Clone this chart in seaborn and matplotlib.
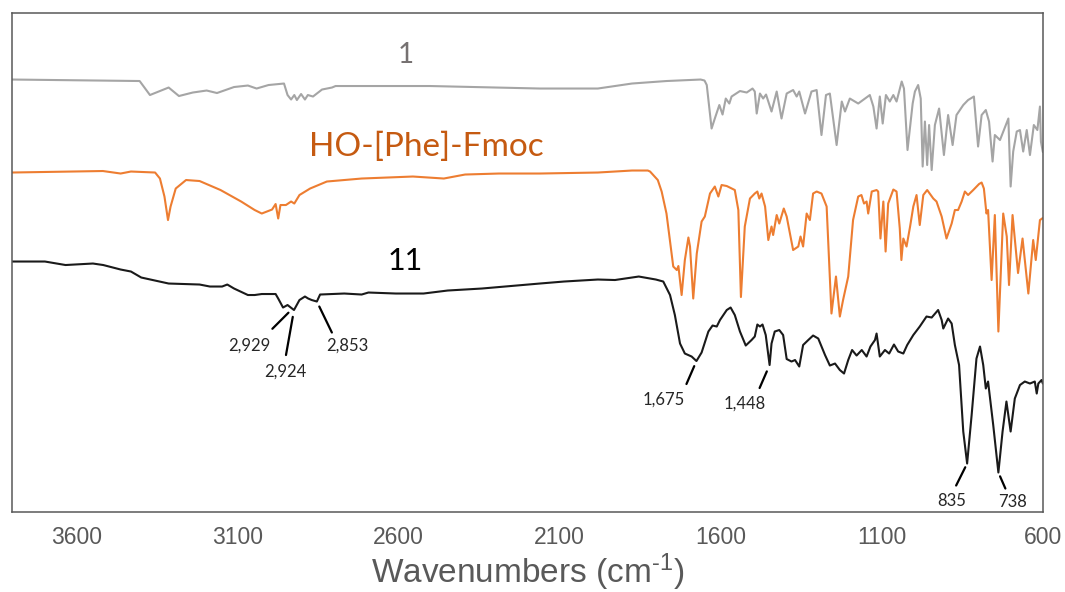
import numpy as np
import pandas as pd
import matplotlib
matplotlib.use("Agg")
import matplotlib.pyplot as plt
import seaborn as sns

# ---- FTIR spectra (wavenumber in cm-1, offset transmittance in a.u.) ----
wn_1 = [3800, 3403, 3371, 3313, 3281, 3238, 3195, 3163, 3110, 3067, 3040, 3003, 2955, 2944,
        2933, 2923, 2915, 2902, 2890, 2881, 2865, 2837, 2806, 2795, 2502, 2161, 1981, 1875,
        1768, 1662, 1650, 1643, 1628, 1618, 1604, 1594, 1584, 1573, 1566, 1540, 1519, 1501,
        1494, 1488, 1478, 1468, 1459, 1442, 1426, 1411, 1395, 1375, 1364, 1356, 1338, 1318,
        1302, 1287, 1273, 1261, 1240, 1224, 1214, 1199, 1173, 1137, 1126, 1116, 1106, 1097,
        1087, 1075, 1064, 1054, 1038, 1031, 1020, 1004, 997, 987, 979, 973, 966, 959, 953,
        945, 935, 922, 907, 894, 880, 868, 847, 832, 814, 801, 790, 777, 767, 756, 749, 733,
        707, 700, 692, 681, 671, 661, 650, 640, 628, 617, 609, 606, 600]
t_1 = [86.5, 86.2, 83.4, 84.9, 83.2, 83.9, 84.3, 83.8, 85.0, 85.3, 84.7, 85.4, 85.7, 83.4,
       82.5, 83.4, 82.4, 83.6, 82.5, 83.4, 83.1, 84.5, 84.9, 85.2, 85.2, 84.7, 84.7, 85.7,
       86.2, 86.5, 86.3, 85.4, 76.7, 78.7, 81.4, 79.5, 82.7, 81.7, 83.1, 84.2, 83.9, 84.7,
       84.1, 79.7, 83.7, 82.7, 83.5, 80.1, 84.1, 78.7, 83.7, 84.4, 83.1, 84.1, 79.7, 84.1,
       84.4, 75.4, 83.4, 83.7, 73.4, 82.1, 80.1, 82.7, 81.7, 83.4, 81.1, 76.7, 83.1, 77.7,
       83.4, 82.1, 83.4, 82.1, 86.1, 84.7, 72.4, 81.7, 84.1, 85.4, 82.7, 69.1, 78.1, 69.4,
       77.4, 68.4, 77.4, 80.7, 71.4, 79.4, 73.4, 79.4, 81.4, 82.4, 83.1, 73.1, 79.4, 80.4,
       78.1, 70.1, 75.4, 74.4, 78.7, 65.1, 72.1, 76.1, 76.4, 72.1, 76.4, 71.4, 77.4, 76.4,
       81.1, 74.1, 72.0]

wn_fmoc = [3800, 3517, 3462, 3430, 3355, 3340, 3326, 3315, 3307, 3291,
           3259, 3217, 3152, 3088, 3046, 3024, 2992, 2981, 2973, 2966,
           2949, 2933, 2923, 2907, 2874, 2822, 2714, 2555, 2459, 2393,
           2288, 2161, 1981, 1875, 1826, 1819, 1795, 1783, 1768, 1747,
           1736, 1731, 1721, 1711, 1700, 1695, 1685, 1674, 1659, 1649,
           1633, 1618, 1607, 1597, 1581, 1556, 1545, 1537, 1525, 1509,
           1494, 1486, 1480, 1473, 1462, 1452, 1442, 1437, 1426, 1418,
           1404, 1395, 1375, 1359, 1352, 1344, 1333, 1323, 1313, 1302,
           1287, 1271, 1256, 1242, 1230, 1220, 1204, 1189, 1173, 1163,
           1155, 1147, 1142, 1131, 1116, 1111, 1104, 1095, 1088, 1080,
           1064, 1054, 1044, 1039, 1033, 1023, 1012, 1002, 992, 982,
           971, 959, 940, 930, 914, 899, 883, 873, 863, 852,
           842, 832, 816, 798, 790, 783, 775, 770, 759, 749,
           738, 723, 712, 705, 694, 677, 663, 645, 630, 622,
           609, 600]
t_fmoc = [67.9, 68.2, 67.7, 68.1, 67.9, 66.7, 63.1, 58.4, 61.1, 64.7,
          66.4, 66.2, 64.4, 62.1, 60.4, 59.7, 60.5, 61.6, 58.7, 61.4,
          61.4, 62.1, 61.7, 63.4, 64.7, 66.1, 66.7, 67.1, 66.7, 67.5,
          67.7, 67.7, 67.9, 68.3, 68.3, 68.1, 66.4, 64.1, 59.7, 49.1,
          48.4, 49.2, 43.4, 50.4, 54.9, 53.1, 42.7, 51.7, 58.1, 59.1,
          63.7, 65.1, 63.1, 65.4, 65.2, 64.4, 60.4, 43.0, 57.1, 62.7,
          63.7, 64.1, 62.7, 63.7, 61.1, 54.4, 57.1, 55.4, 59.4, 57.7,
          60.7, 59.1, 52.4, 53.1, 55.1, 53.1, 59.7, 58.4, 63.7, 64.1,
          63.7, 61.1, 39.7, 47.1, 39.1, 42.4, 47.1, 58.4, 63.1, 63.4,
          61.7, 62.1, 59.7, 64.1, 64.4, 64.1, 54.7, 62.1, 52.1, 61.7,
          64.5, 64.1, 56.7, 50.4, 54.7, 53.1, 57.1, 61.1, 63.4, 57.4,
          63.4, 64.4, 62.7, 62.1, 59.1, 54.7, 57.7, 60.4, 60.4, 62.1,
          64.1, 63.4, 64.4, 65.6, 65.9, 64.7, 59.7, 60.4, 46.4, 59.4,
          36.1, 59.7, 55.1, 45.4, 59.4, 47.8, 54.7, 43.7, 54.4, 50.4,
          58.4, 58.8]

wn_11 = [3800, 3697, 3633, 3548, 3516, 3462, 3430, 3398, 3355, 3313,
         3217, 3185, 3147, 3131, 3110, 3067, 3046, 3024, 2981, 2973,
         2958, 2944, 2924, 2907, 2890, 2880, 2869, 2853, 2843, 2768,
         2714, 2693, 2608, 2522, 2447, 2341, 2234, 2161, 2086, 1981,
         1928, 1854, 1801, 1778, 1757, 1742, 1726, 1711, 1690, 1675,
         1659, 1638, 1625, 1612, 1602, 1581, 1569, 1556, 1540, 1522,
         1504, 1494, 1486, 1478, 1470, 1460, 1448, 1442, 1432, 1418,
         1406, 1395, 1380, 1369, 1356, 1344, 1328, 1313, 1297, 1276,
         1261, 1245, 1230, 1217, 1204, 1192, 1178, 1162, 1147, 1135,
         1121, 1116, 1106, 1090, 1077, 1062, 1049, 1033, 1021, 1002,
         982, 961, 945, 925, 914, 909, 894, 883, 873, 860,
         847, 835, 821, 806, 795, 785, 777, 770, 754, 738,
         725, 713, 700, 687, 671, 656, 640, 625, 619, 614,
         604, 600]
t_11 = [50.1, 50.1, 49.4, 49.7, 49.4, 48.5, 48.1, 46.9, 46.3, 45.7,
        45.5, 45.1, 45.1, 45.5, 44.7, 43.4, 43.4, 43.6, 43.6, 42.7,
        40.9, 41.4, 40.4, 42.4, 43.1, 42.7, 42.4, 42.1, 43.5, 43.7,
        43.5, 43.9, 43.7, 43.7, 44.3, 44.7, 45.3, 45.7, 46.1, 46.5,
        46.4, 47.1, 46.5, 46.1, 43.4, 39.4, 33.7, 31.7, 31.1, 30.2,
        31.9, 36.1, 37.3, 37.1, 38.4, 40.4, 40.9, 39.4, 36.1, 33.3,
        34.4, 35.1, 37.5, 37.1, 37.5, 35.4, 29.4, 33.7, 36.1, 36.4,
        35.4, 30.6, 30.1, 30.4, 29.1, 33.4, 34.4, 35.3, 34.7, 31.4,
        29.3, 29.7, 28.4, 27.7, 30.4, 32.4, 31.3, 32.4, 31.1, 33.1,
        34.4, 35.7, 31.1, 32.4, 31.7, 33.5, 32.1, 31.7, 33.4, 35.4,
        37.1, 39.1, 38.9, 40.4, 38.4, 36.7, 38.7, 37.7, 33.4, 29.4,
        16.1, 9.7, 19.4, 30.7, 33.1, 29.4, 24.7, 26.1, 17.4, 7.9,
        16.1, 22.1, 16.1, 22.7, 25.4, 26.1, 25.7, 26.1, 23.7, 25.7,
        26.4, 25.7]

# Labelled bands of compound 11
peak_wn = [2929, 2924, 2853, 1675, 1448, 835, 738]
peak_text = ["2,929", "2,924", "2,853", "1,675", "1,448", "835", "738"]

x_ticks = [3600, 3100, 2600, 2100, 1600, 1100, 600]

# ---- style ----
sns.set_theme(style="white")
plt.rcParams["font.family"] = ["Liberation Sans", "DejaVu Sans"]
plt.rcParams["mathtext.fontset"] = "custom"
plt.rcParams["mathtext.rm"] = "Liberation Sans"
plt.rcParams["mathtext.it"] = "Liberation Sans"

c_grey, c_orange, c_black = "#A5A5A5", "#ED7D31", "#1A1A1A"
axis_grey = "#595959"

fig = plt.figure(figsize=(10.65, 5.92), dpi=100)
ax = fig.add_axes([0.011, 0.1351, 0.9682, 0.8429])

spectra = pd.concat([
    pd.DataFrame({"wn": wn_1, "T": t_1, "sample": "1"}),
    pd.DataFrame({"wn": wn_fmoc, "T": t_fmoc, "sample": "HO-[Phe]-Fmoc"}),
    pd.DataFrame({"wn": wn_11, "T": t_11, "sample": "11"}),
])
palette = {"1": c_grey, "HO-[Phe]-Fmoc": c_orange, "11": c_black}
for name, grp in spectra.groupby("sample", sort=False):
    line = sns.lineplot(data=grp, x="wn", y="T", color=palette[name], lw=1.5,
                        estimator=None, sort=False, ax=ax, legend=False)
for ln in ax.lines:
    ln.set_solid_joinstyle("round")

ax.set_xlim(3800, 600)
ax.set_ylim(0, 99.8)
ax.set_xticks(x_ticks)
ax.set_xticklabels([str(v) for v in x_ticks])
ax.set_yticks([])
ax.tick_params(axis="x", direction="in", length=5, width=1.0, color=axis_grey,
               labelsize=16.5, labelcolor=axis_grey, pad=10)
for s in ax.spines.values():
    s.set_visible(True)
    s.set_color(axis_grey)
    s.set_linewidth(1.1)
ax.set_xlabel("Wavenumbers (cm$^{\u2010 1}$)", fontsize=24, color=axis_grey, labelpad=2)
ax.set_ylabel("")

# Sample names above each trace
lab_font = ["Lato", "DejaVu Sans"]
ax.text(2576, 91.4, "1", color="#767171", fontsize=20, family=lab_font,
        ha="center", va="center")
ax.text(2512, 73.0, "HO-[Phe]-Fmoc", color="#C55A11", fontsize=24, family=lab_font,
        ha="center", va="center")
ax.text(2580, 50.2, "11", color="black", fontsize=22, family=lab_font,
        ha="center", va="center")

# Band labels with leader lines (offsets in pixels)
leader = {
    "2,929": ((-20, -20), (-43, -37), 4),
    "2,924": ((-8, -45), (-9, -62), 5),
    "2,853": ((15, -31), (30, -44), 4),
    "1,675": ((-10, -23), (-33, -39), 4),
    "1,448": ((-10, -23), (-25, -39), 5),
    "835": ((-11, -22), (-15, -37), 3),
    "738": ((7, -16), (14, -29), 3),
}
wn_asc = np.array(wn_11[::-1], dtype=float)
t_asc = np.array(t_11[::-1], dtype=float)
for wn, txt in zip(peak_wn, peak_text):
    y = float(np.interp(wn, wn_asc, t_asc))
    (lx, ly), (tx, ty), gap = leader[txt]
    ax.annotate("", xy=(wn, y), xytext=(lx, ly), textcoords="offset pixels",
                arrowprops=dict(arrowstyle="-", color="black", lw=1.6,
                                shrinkA=0, shrinkB=gap))
    ax.annotate(txt, xy=(wn, y), xytext=(tx, ty), textcoords="offset pixels",
                ha="center", va="center", fontsize=12, color="#262626",
                family=lab_font)

fig.savefig("out.png", dpi=100)
